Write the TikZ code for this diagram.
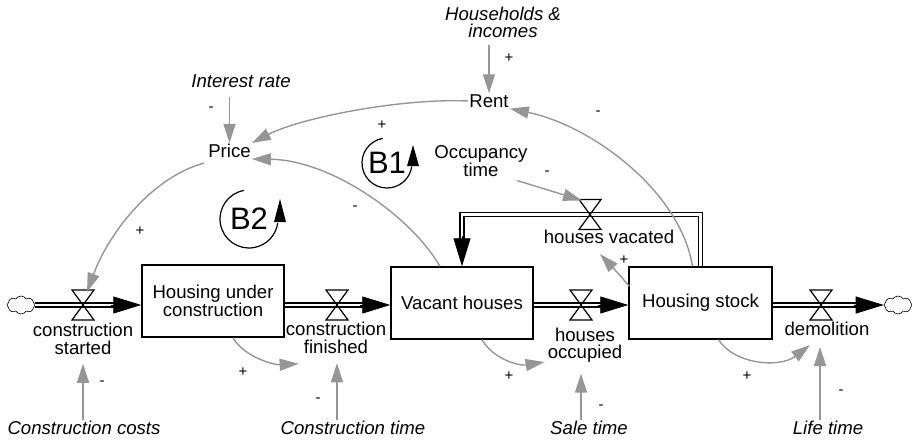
\documentclass[tikz,border=0pt]{standalone}
\usepackage{fontspec}
\setmainfont{Liberation Sans}
\usetikzlibrary{arrows.meta,calc,shapes.symbols}
\definecolor{linkgray}{RGB}{150,150,150}
\tikzset{
  lab/.style={font=\fontsize{18.6}{17.5}\selectfont, inner sep=1pt, align=center},
  ext/.style={font=\fontsize{18.6}{17.5}\selectfont\itshape, inner sep=1pt, align=center},
  stockbox/.style={lab, draw, line width=1.4pt, minimum width=142pt, minimum height=72pt},
  pol/.style={font=\fontsize{15}{15}\selectfont, inner sep=0pt},
  conn/.style={draw=linkgray, line width=1.4pt, -{Triangle[length=19pt,width=12pt]}},
  pipe/.style={draw=black, double=white, double distance=2.8pt, line width=1.4pt, line join=miter},
  fhead/.style={line width=0.8pt, -{Triangle[length=28pt,width=17pt]}},
  valveline/.style={line width=1.2pt, line join=miter},
  cloudnode/.style={cloud, draw, cloud puffs=8, cloud puff arc=120, cloud ignores aspect,
    minimum width=28pt, minimum height=18pt, inner sep=0pt, line width=0.6pt},
  loopmark/.style={font=\fontsize{31}{31}\selectfont, inner sep=0pt},
  looparc/.style={line width=1.2pt}
}
\newcommand{\drawvalve}[1]{%
  \draw[valveline] ($(#1)+(-11pt,15pt)$) -- ($(#1)+(11pt,15pt)$) -- ($(#1)+(-11pt,-15pt)$) -- ($(#1)+(11pt,-15pt)$) -- cycle;}
\begin{document}
\begin{tikzpicture}[x=1pt,y=1pt]
\useasboundingbox (0,0) rectangle (912,-441);

% stocks
\node[stockbox] (huc) at (213,-301) {Housing under\\construction};
\node[stockbox] (vac) at (462,-303) {Vacant houses};
\node[stockbox, minimum width=143pt] (stock) at (700.5,-303) {Housing stock};

% clouds
\node[cloudnode] (cl) at (21,-305) {};
\node[cloudnode] (cr) at (898,-305) {};

% valve centres
\coordinate (v1) at (83,-305);
\coordinate (v2) at (337,-305);
\coordinate (v3) at (581,-305);
\coordinate (v4) at (821,-305);
\coordinate (v5) at (590,-214.5);

% flow labels
\node[lab] (cs) at (83,-339) {construction\\started};
\node[lab] (cf) at (336,-338) {construction\\finished};
\node[lab] (ho) at (585,-345) {houses\\occupied};
\node[lab] (dem) at (827,-329) {demolition};
\node[lab] (hv) at (609,-237) {houses vacated};

% auxiliaries
\node[lab] (price) at (229.5,-151) {Price};
\node[lab] (rent) at (489,-101) {Rent};
\node[lab] (occ) at (481,-161) {Occupancy\\time};
\node[ext] (ir) at (241,-81) {Interest rate};
\node[ext] (hh) at (503,-22.5) {Households \&\\incomes};
\node[ext] (cc) at (84,-428) {Construction costs};
\node[ext] (ct) at (353,-428) {Construction time};
\node[ext] (st) at (589,-428) {Sale time};
\node[ext] (lt) at (828,-428) {Life time};

% flow pipes
\coordinate (t1) at (huc.west |- v1);
\coordinate (t2) at (vac.west |- v2);
\coordinate (t3) at (stock.west |- v3);
\draw[pipe, shorten >=18pt] (cl.east) -- (t1);
\draw[fhead] ($(t1)+(-30pt,0)$) -- (t1);
\draw[pipe, shorten >=18pt] (huc.east |- v2) -- (t2);
\draw[fhead] ($(t2)+(-30pt,0)$) -- (t2);
\draw[pipe, shorten >=18pt] (vac.east |- v3) -- (t3);
\draw[fhead] ($(t3)+(-30pt,0)$) -- (t3);
\draw[pipe, shorten >=18pt] (stock.east |- v4) -- (cr.west);
\draw[fhead] ($(cr.west)+(-30pt,0)$) -- (cr.west);
\draw[pipe, shorten >=18pt] (stock.north) |- (v5) -| (vac.north);
\draw[fhead] ($(vac.north)+(0,30pt)$) -- (vac.north);

% valves
\drawvalve{v1}
\drawvalve{v2}
\drawvalve{v3}
\drawvalve{v4}
\drawvalve{v5}

% information links
\draw[conn] ($(price.north |- ir.south)+(0,-8pt)$) -- (price.north);
\draw[conn] ($(rent.north |- hh.south)+(0,-6pt)$) -- (rent.north);
\draw[conn] (rent.west) .. controls (400,-98) and (300,-118) .. (price.north east);
\draw[conn] ($(vac.north)+(-22pt,0)$) .. controls (410,-215) and (330,-160) .. (price.south east);
\draw[conn] ($(price.south west)+(-3pt,-4pt)$) .. controls (150,-178) and (108,-235) .. ($(v1)+(4pt,13pt)$);
\draw[conn] ($(stock.north)+(-8pt,0)$) .. controls (680,-190) and (590,-125) .. (rent.south east);
\draw[conn] ($(occ.south)+(36pt,-3pt)$) -- ($(v5)+(-8pt,14pt)$);
\draw[conn] ($(stock.north west)+(1pt,-20pt)$) .. controls (617,-272) .. ($(hv.south)+(-9pt,-9pt)$);
\draw[conn] ($(huc.south)+(20pt,0)$) .. controls (245,-358) and (275,-365) .. ($(cf.south west)+(14pt,-9pt)$);
\draw[conn] ($(vac.south)+(20pt,0)$) .. controls (494,-360) and (520,-366) .. ($(ho.west)+(-2pt,-17pt)$);
\draw[conn] ($(stock.south)+(18pt,0)$) .. controls (735,-365) and (780,-368) .. ($(dem.south)+(-17pt,-8pt)$);
\draw[conn] (cs.south |- cc.north) -- ($(cs.south)+(0,-8pt)$);
\draw[conn] ($(v2 |- ct.north)$) -- ($(v2 |- cf.south)+(0,-8.5pt)$);
\draw[conn] ($(v3 |- st.north)$) -- ($(v3 |- ho.south)+(0,-10pt)$);
\draw[conn] ($(lt.north)+(-8pt,0)$) -- ($(lt.north -| dem.south)+(-7pt,0)+(0,73pt)$);

% polarities
\node[pol] at (211,-109) {-};
\node[pol] at (382,-125) {+};
\node[pol] at (355,-208) {-};
\node[pol] at (140,-231) {+};
\node[pol] at (509,-58) {+};
\node[pol] at (598,-113) {-};
\node[pol] at (547,-173) {-};
\node[pol] at (624,-260) {+};
\node[pol] at (102,-383) {-};
\node[pol] at (243,-372) {+};
\node[pol] at (318,-400) {-};
\node[pol] at (509,-376) {+};
\node[pol] at (601,-407) {-};
\node[pol] at (747,-376) {+};
\node[pol] at (841,-392) {-};

% loop markers
\node[loopmark] (B1) at (387,-163) {B1};
\draw[looparc] ($(B1)+(100:25pt)$) arc[start angle=100, end angle=352, radius=25pt];
\fill ($(B1)+(26pt,18pt)$) -- ($(B1)+(20pt,-3pt)$) -- ($(B1)+(32pt,-3pt)$) -- cycle;
\node[loopmark] (B2) at (249,-219) {B2};
\draw[looparc] ($(B2)+(100:29pt)$) arc[start angle=100, end angle=352, radius=29pt];
\fill ($(B2)+(31pt,20pt)$) -- ($(B2)+(25pt,-3pt)$) -- ($(B2)+(37pt,-3pt)$) -- cycle;
\end{tikzpicture}
\end{document}
